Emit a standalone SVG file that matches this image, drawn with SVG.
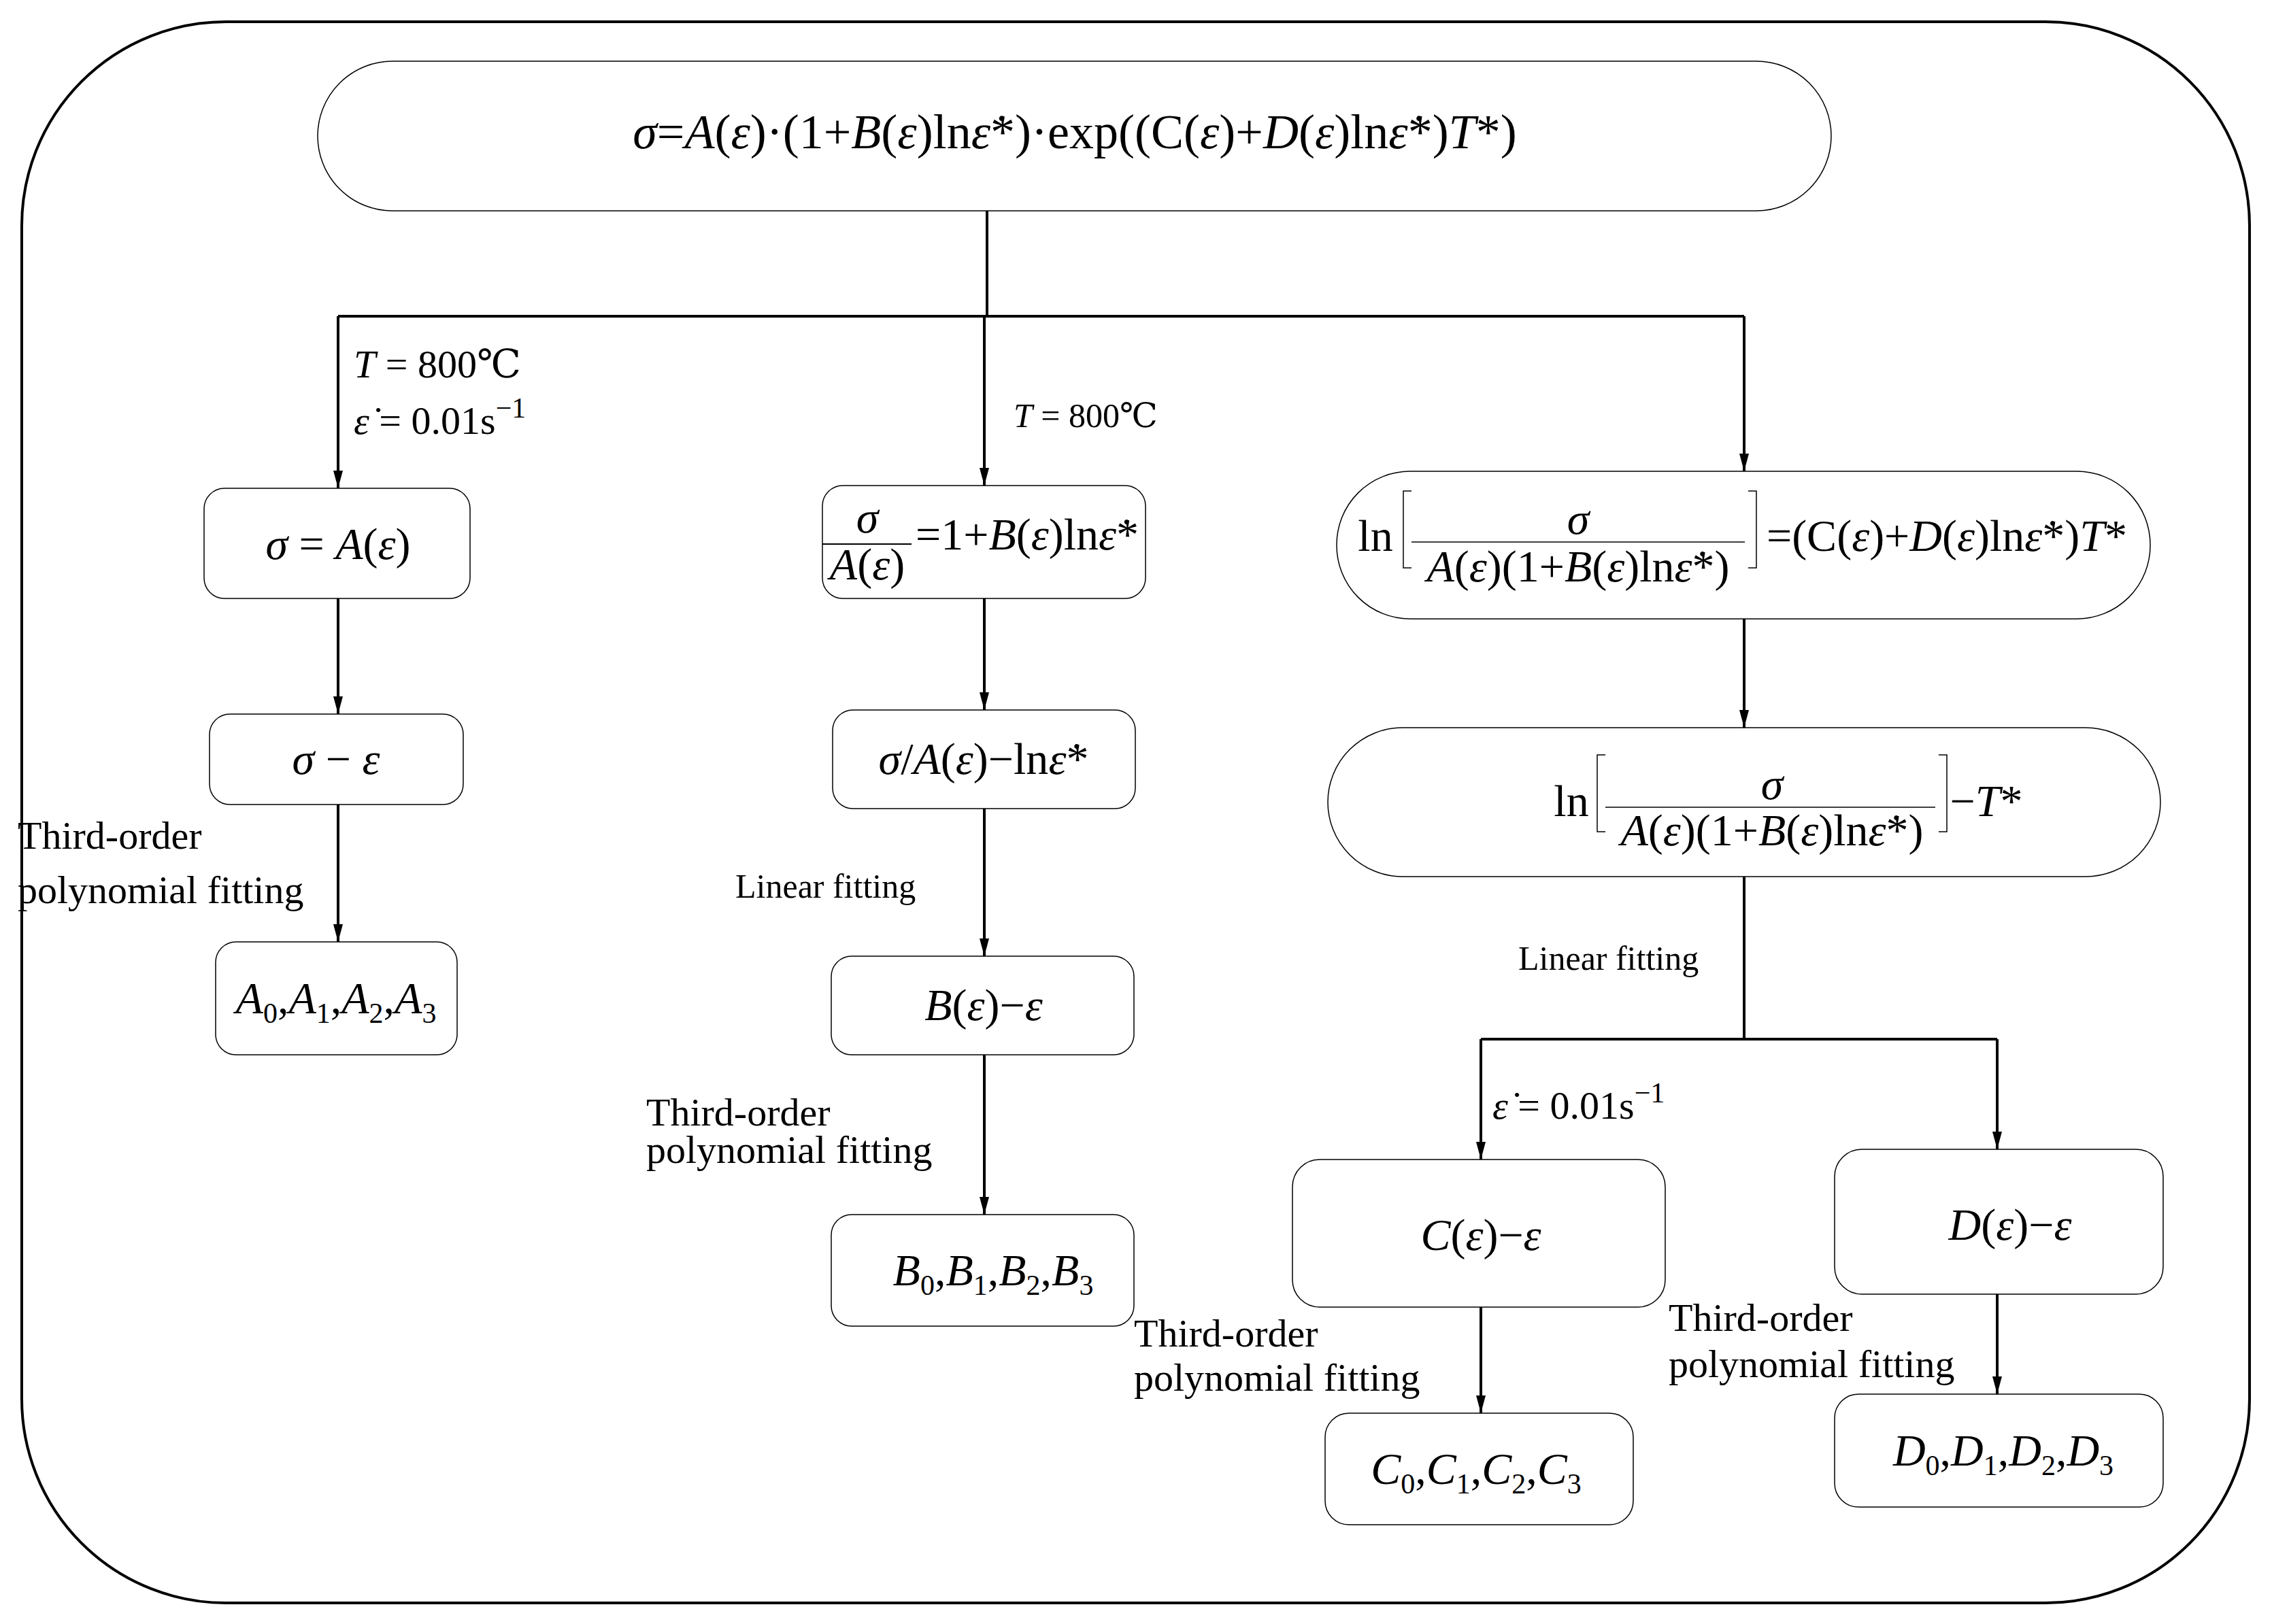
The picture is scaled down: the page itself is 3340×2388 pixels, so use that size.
<svg xmlns="http://www.w3.org/2000/svg" width="3340" height="2388" viewBox="0 0 3340 2388">
<defs>
<marker id="ah" markerWidth="26" markerHeight="14" refX="26" refY="7" orient="auto" markerUnits="userSpaceOnUse" viewBox="0 0 26 14"><path d="M0,0 L26,7 L0,14 Z" fill="#000"/></marker>
<style>
.n{fill:#fff;stroke:#000;stroke-width:1.5}
.c{fill:none;stroke:#000;stroke-width:4}
.a{fill:none;stroke:#000;stroke-width:4;marker-end:url(#ah)}
text{font-family:"Liberation Serif","DejaVu Serif",serif;fill:#000}
.m{font-size:66px;text-anchor:middle}
.t{font-size:72px;text-anchor:middle}
.s{font-size:58px}
.l{font-size:50px}
.i{font-style:italic}
.sub{font-size:42px}
</style>
</defs>
<rect x="32" y="32" width="3275" height="2325" rx="300" fill="none" stroke="#000" stroke-width="4"/>
<g id="connectors">
<line class="c" x1="1451" y1="310" x2="1451" y2="465"/>
<line class="c" x1="497" y1="465" x2="2564" y2="465"/>
<line class="a" x1="497" y1="465" x2="497" y2="718"/>
<line class="a" x1="1447" y1="465" x2="1447" y2="714"/>
<line class="a" x1="2564" y1="465" x2="2564" y2="693"/>
<line class="a" x1="497" y1="880" x2="497" y2="1050"/>
<line class="a" x1="497" y1="1183" x2="497" y2="1385"/>
<line class="a" x1="1447" y1="880" x2="1447" y2="1044"/>
<line class="a" x1="1447" y1="1189" x2="1447" y2="1406"/>
<line class="a" x1="1447" y1="1551" x2="1447" y2="1786"/>
<line class="a" x1="2564" y1="910" x2="2564" y2="1070"/>
<line class="c" x1="2564" y1="1289" x2="2564" y2="1528"/>
<line class="c" x1="2177" y1="1528" x2="2936" y2="1528"/>
<line class="a" x1="2177" y1="1528" x2="2177" y2="1705"/>
<line class="a" x1="2936" y1="1528" x2="2936" y2="1690"/>
<line class="a" x1="2177" y1="1922" x2="2177" y2="2078"/>
<line class="a" x1="2936" y1="1903" x2="2936" y2="2050"/>
<text class="s" x="520" y="555"><tspan class="i">T</tspan> = 800℃</text>
<text class="s" x="520" y="638"><tspan class="i">ε̇</tspan> = 0.01s<tspan class="sub" dy="-24">−1</tspan></text>
<text class="l" x="1490" y="628"><tspan class="i">T</tspan> = 800℃</text>
<text class="s" x="2194" y="1645"><tspan class="i">ε̇</tspan> = 0.01s<tspan class="sub" dy="-24">−1</tspan></text>
<text class="s" x="26" y="1248">Third-order</text>
<text class="s" x="26" y="1328">polynomial fitting</text>
<text class="l" x="1081" y="1320">Linear fitting</text>
<text class="s" x="950" y="1655">Third-order</text>
<text class="s" x="950" y="1710">polynomial fitting</text>
<text class="l" x="2232" y="1426">Linear fitting</text>
<text class="s" x="1667" y="1980">Third-order</text>
<text class="s" x="1667" y="2045">polynomial fitting</text>
<text class="s" x="2453" y="1957">Third-order</text>
<text class="s" x="2453" y="2025">polynomial fitting</text>
</g>
<g id="top">
<rect class="n" x="467" y="90" width="2225" height="220" rx="110"/>
<text class="t" x="1580" y="218"><tspan class="i">σ</tspan>=<tspan class="i">A</tspan>(<tspan class="i">ε</tspan>)·(1+<tspan class="i">B</tspan>(<tspan class="i">ε</tspan>)ln<tspan class="i">ε̇</tspan>*)·exp((C(<tspan class="i">ε</tspan>)+<tspan class="i">D</tspan>(<tspan class="i">ε</tspan>)ln<tspan class="i">ε̇</tspan>*)<tspan class="i">T</tspan>*)</text>
</g>
<g id="a1">
<rect class="n" x="300" y="718" width="391" height="162" rx="30"/>
<text class="m" x="497" y="822"><tspan class="i">σ</tspan> = <tspan class="i">A</tspan>(<tspan class="i">ε</tspan>)</text>
</g>
<g id="a2">
<rect class="n" x="308" y="1050" width="373" height="133" rx="30"/>
<text class="m" x="494" y="1138"><tspan class="i">σ</tspan> − <tspan class="i">ε</tspan></text>
</g>
<g id="a3">
<rect class="n" x="317" y="1385" width="355" height="166" rx="30"/>
<text class="m" x="494" y="1490"><tspan class="i">A</tspan><tspan class="sub" dy="14">0</tspan><tspan dy="-14">,</tspan><tspan class="i">A</tspan><tspan class="sub" dy="14">1</tspan><tspan dy="-14">,</tspan><tspan class="i">A</tspan><tspan class="sub" dy="14">2</tspan><tspan dy="-14">,</tspan><tspan class="i">A</tspan><tspan class="sub" dy="14">3</tspan></text>
</g>
<g id="b1">
<rect class="n" x="1209" y="714" width="475" height="166" rx="30"/>
<text class="m" x="1275" y="783"><tspan class="i">σ</tspan></text>
<line x1="1209" y1="800" x2="1340" y2="800" stroke="#000" stroke-width="2"/>
<text class="m" x="1275" y="852"><tspan class="i">A</tspan>(<tspan class="i">ε</tspan>)</text>
<text class="m" x="1510" y="808">=1+<tspan class="i">B</tspan>(<tspan class="i">ε</tspan>)ln<tspan class="i">ε̇</tspan>*</text>
</g>
<g id="b2">
<rect class="n" x="1224" y="1044" width="445" height="145" rx="30"/>
<text class="m" x="1446" y="1138"><tspan class="i">σ</tspan>/<tspan class="i">A</tspan>(<tspan class="i">ε</tspan>)−ln<tspan class="i">ε̇</tspan>*</text>
</g>
<g id="b3">
<rect class="n" x="1222" y="1406" width="445" height="145" rx="30"/>
<text class="m" x="1446" y="1500"><tspan class="i">B</tspan>(<tspan class="i">ε</tspan>)−<tspan class="i">ε</tspan></text>
</g>
<g id="b4">
<rect class="n" x="1222" y="1786" width="445" height="164" rx="30"/>
<text class="m" x="1460" y="1890"><tspan class="i">B</tspan><tspan class="sub" dy="14">0</tspan><tspan dy="-14">,</tspan><tspan class="i">B</tspan><tspan class="sub" dy="14">1</tspan><tspan dy="-14">,</tspan><tspan class="i">B</tspan><tspan class="sub" dy="14">2</tspan><tspan dy="-14">,</tspan><tspan class="i">B</tspan><tspan class="sub" dy="14">3</tspan></text>
</g>
<g id="c1">
<rect class="n" x="1965" y="693" width="1196" height="217" rx="108"/>
<text class="m" x="2022" y="810">ln</text>
<path d="M2075,722 h-12 v113 h12 M2570,722 h12 v113 h-12" fill="none" stroke="#000" stroke-width="1.5"/>
<text class="m" x="2320" y="785"><tspan class="i">σ</tspan></text>
<line x1="2075" y1="797" x2="2565" y2="797" stroke="#000" stroke-width="1.5"/>
<text class="m" x="2320" y="855"><tspan class="i">A</tspan>(<tspan class="i">ε</tspan>)(1+<tspan class="i">B</tspan>(<tspan class="i">ε</tspan>)ln<tspan class="i">ε̇</tspan>*)</text>
<text class="m" x="2862" y="810">=(C(<tspan class="i">ε</tspan>)+<tspan class="i">D</tspan>(<tspan class="i">ε</tspan>)ln<tspan class="i">ε̇</tspan>*)<tspan class="i">T</tspan>*</text>
</g>
<g id="c2">
<rect class="n" x="1952" y="1070" width="1224" height="219" rx="110"/>
<text class="m" x="2310" y="1200">ln</text>
<path d="M2360,1110 h-12 v113 h12 M2850,1110 h12 v113 h-12" fill="none" stroke="#000" stroke-width="1.5"/>
<text class="m" x="2605" y="1175"><tspan class="i">σ</tspan></text>
<line x1="2360" y1="1187" x2="2845" y2="1187" stroke="#000" stroke-width="1.5"/>
<text class="m" x="2605" y="1243"><tspan class="i">A</tspan>(<tspan class="i">ε</tspan>)(1+<tspan class="i">B</tspan>(<tspan class="i">ε</tspan>)ln<tspan class="i">ε̇</tspan>*)</text>
<text class="m" x="2920" y="1200">−<tspan class="i">T</tspan>*</text>
</g>
<g id="c3">
<rect class="n" x="1900" y="1705" width="548" height="217" rx="40"/>
<text class="m" x="2177" y="1838"><tspan class="i">C</tspan>(<tspan class="i">ε</tspan>)−<tspan class="i">ε</tspan></text>
</g>
<g id="c4">
<rect class="n" x="1948" y="2078" width="453" height="164" rx="35"/>
<text class="m" x="2170" y="2182"><tspan class="i">C</tspan><tspan class="sub" dy="14">0</tspan><tspan dy="-14">,</tspan><tspan class="i">C</tspan><tspan class="sub" dy="14">1</tspan><tspan dy="-14">,</tspan><tspan class="i">C</tspan><tspan class="sub" dy="14">2</tspan><tspan dy="-14">,</tspan><tspan class="i">C</tspan><tspan class="sub" dy="14">3</tspan></text>
</g>
<g id="d3">
<rect class="n" x="2697" y="1690" width="483" height="213" rx="40"/>
<text class="m" x="2955" y="1823"><tspan class="i">D</tspan>(<tspan class="i">ε</tspan>)−<tspan class="i">ε</tspan></text>
</g>
<g id="d4">
<rect class="n" x="2697" y="2050" width="483" height="166" rx="35"/>
<text class="m" x="2945" y="2155"><tspan class="i">D</tspan><tspan class="sub" dy="14">0</tspan><tspan dy="-14">,</tspan><tspan class="i">D</tspan><tspan class="sub" dy="14">1</tspan><tspan dy="-14">,</tspan><tspan class="i">D</tspan><tspan class="sub" dy="14">2</tspan><tspan dy="-14">,</tspan><tspan class="i">D</tspan><tspan class="sub" dy="14">3</tspan></text>
</g>
</svg>
